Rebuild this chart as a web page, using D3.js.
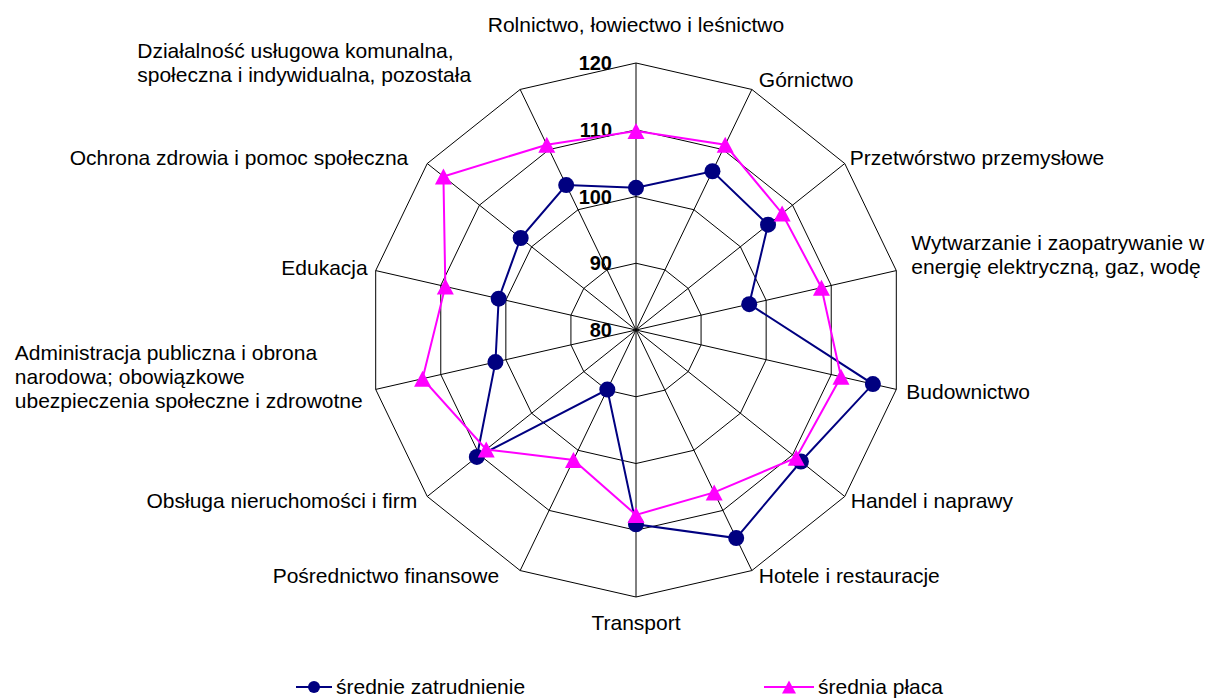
<!DOCTYPE html>
<html>
<head>
<meta charset="utf-8">
<script src="https://cdn.jsdelivr.net/npm/d3@7"></script>
<style>
  body { margin: 0; background: #fff; }
  text { font-family: "Liberation Sans", Arial, sans-serif; fill: #000; }
</style>
</head>
<body>
<script>
// categories, clockwise from the top
var categories = [
  "Rolnictwo, łowiectwo i leśnictwo",
  "Górnictwo",
  "Przetwórstwo przemysłowe",
  "Wytwarzanie i zaopatrywanie w\nenergię elektryczną, gaz, wodę",
  "Budownictwo",
  "Handel i naprawy",
  "Hotele i restauracje",
  "Transport",
  "Pośrednictwo finansowe",
  "Obsługa nieruchomości i firm",
  "Administracja publiczna i obrona\nnarodowa; obowiązkowe\nubezpieczenia społeczne i zdrowotne",
  "Edukacja",
  "Ochrona zdrowia i pomoc społeczna",
  "Działalność usługowa komunalna,\nspołeczna i indywidualna, pozostała"
];

var zatrudnienie = [101.3, 106.4, 105.3, 97.4, 116.4, 111.6, 114.6, 109.1, 89.9, 110.5, 101.6, 101.1, 102.1, 104.1];
var placa = [109.8, 110.8, 108.0, 108.5, 111.5, 110.7, 107.0, 107.7, 101.6, 108.7, 112.8, 109.3, 116.9, 110.8];

var ticks = [80, 90, 100, 110, 120];
var seriesNames = ["średnie zatrudnienie", "średnia płaca"];

// label nudges relative to the outer vertex: [dx, dy of first baseline]
var labelNudge = [
  [0, -31], [7, -2], [5, 1], [15, -21], [10, 10], [6, 12], [7, 12],
  [0, 33], [-21, 12], [-10, 12], [-13, -29], [-8, 4], [-19, 1], [-49, -31]
];

var width = 1210, height = 698;
var cx = 636, cy = 330, R = 267;
var n = categories.length;

var svg = d3.select("body").append("svg")
    .attr("width", width)
    .attr("height", height);

var r = d3.scaleLinear()
    .domain([ticks[0], ticks[ticks.length - 1]])
    .range([0, R]);

function angle(i) { return i * 2 * Math.PI / n; }
function pt(i, v) {
  return [cx + r(v) * Math.sin(angle(i)), cy - r(v) * Math.cos(angle(i))];
}

var radarLine = d3.line().curve(d3.curveLinearClosed);

// grid rings
var grid = svg.append("g");
ticks.slice(1).forEach(function(t) {
  grid.append("path")
      .attr("d", radarLine(d3.range(n).map(function(i) { return pt(i, t); })))
      .attr("fill", "none")
      .attr("stroke", "#000")
      .attr("stroke-width", 1);
});
// spokes
d3.range(n).forEach(function(i) {
  var p = pt(i, ticks[ticks.length - 1]);
  grid.append("line")
      .attr("x1", cx).attr("y1", cy)
      .attr("x2", p[0]).attr("y2", p[1])
      .attr("stroke", "#000")
      .attr("stroke-width", 1);
});

// tick labels
svg.append("g").selectAll("text")
    .data(ticks)
  .enter().append("text")
    .attr("x", cx - 24)
    .attr("y", function(d) { return cy - r(d); })
    .attr("dy", "0.35em")
    .attr("text-anchor", "end")
    .attr("font-size", 20)
    .attr("font-weight", "bold")
    .text(function(d) { return d; });

// series
var circlePath = d3.symbol().type(d3.symbolCircle).size(Math.PI * 64);
function triPath(w, h) {
  return "M0," + (-h / 2) + "L" + (w / 2) + "," + (h / 2) + "L" + (-w / 2) + "," + (h / 2) + "Z";
}

var series = [
  { name: seriesNames[0], values: zatrudnienie, color: "#000080", marker: circlePath() },
  { name: seriesNames[1], values: placa, color: "#FF00FF", marker: triPath(17, 16) }
];

series.forEach(function(s) {
  var pts = s.values.map(function(v, i) { return pt(i, v); });
  var g = svg.append("g");
  g.append("path")
      .attr("d", radarLine(pts))
      .attr("fill", "none")
      .attr("stroke", s.color)
      .attr("stroke-width", 2);
  g.selectAll("path.m")
      .data(pts)
    .enter().append("path")
      .attr("class", "m")
      .attr("transform", function(d) { return "translate(" + d[0] + "," + d[1] + ")"; })
      .attr("d", s.marker)
      .attr("fill", s.color);
});

// category labels
var labels = svg.append("g").attr("font-size", 21);
categories.forEach(function(c, i) {
  var p = pt(i, ticks[ticks.length - 1]);
  var s = Math.sin(angle(i));
  var lines = c.split("\n");
  var t = labels.append("text")
      .attr("y", p[1] + labelNudge[i][1]);
  lines.forEach(function(l, j) {
    t.append("tspan")
        .attr("x", 0)
        .attr("dy", j === 0 ? 0 : 24)
        .text(l);
  });
  var w = d3.max(t.selectAll("tspan").nodes(), function(node) { return node.getComputedTextLength(); });
  var left;
  if (Math.abs(s) < 0.1) left = p[0] + labelNudge[i][0] - w / 2;
  else if (s > 0) left = p[0] + labelNudge[i][0];
  else left = p[0] + labelNudge[i][0] - w;
  t.selectAll("tspan").attr("x", left);
});

// legend
var legend = svg.append("g").attr("font-size", 21);
var legendX = [296, 764];
var legendLen = [36, 50];
series.forEach(function(s, i) {
  var y = 687;
  var g = legend.append("g");
  g.append("line")
      .attr("x1", legendX[i]).attr("x2", legendX[i] + legendLen[i])
      .attr("y1", y).attr("y2", y)
      .attr("stroke", s.color)
      .attr("stroke-width", 2);
  g.append("path")
      .attr("transform", "translate(" + (legendX[i] + legendLen[i] / 2) + "," + y + ")")
      .attr("d", i === 0 ? d3.symbol().type(d3.symbolCircle).size(Math.PI * 36)() : triPath(14, 13))
      .attr("fill", s.color);
  g.append("text")
      .attr("x", legendX[i] + legendLen[i] + 4)
      .attr("y", y)
      .attr("dy", "0.35em")
      .text(s.name);
});
</script>
</body>
</html>
